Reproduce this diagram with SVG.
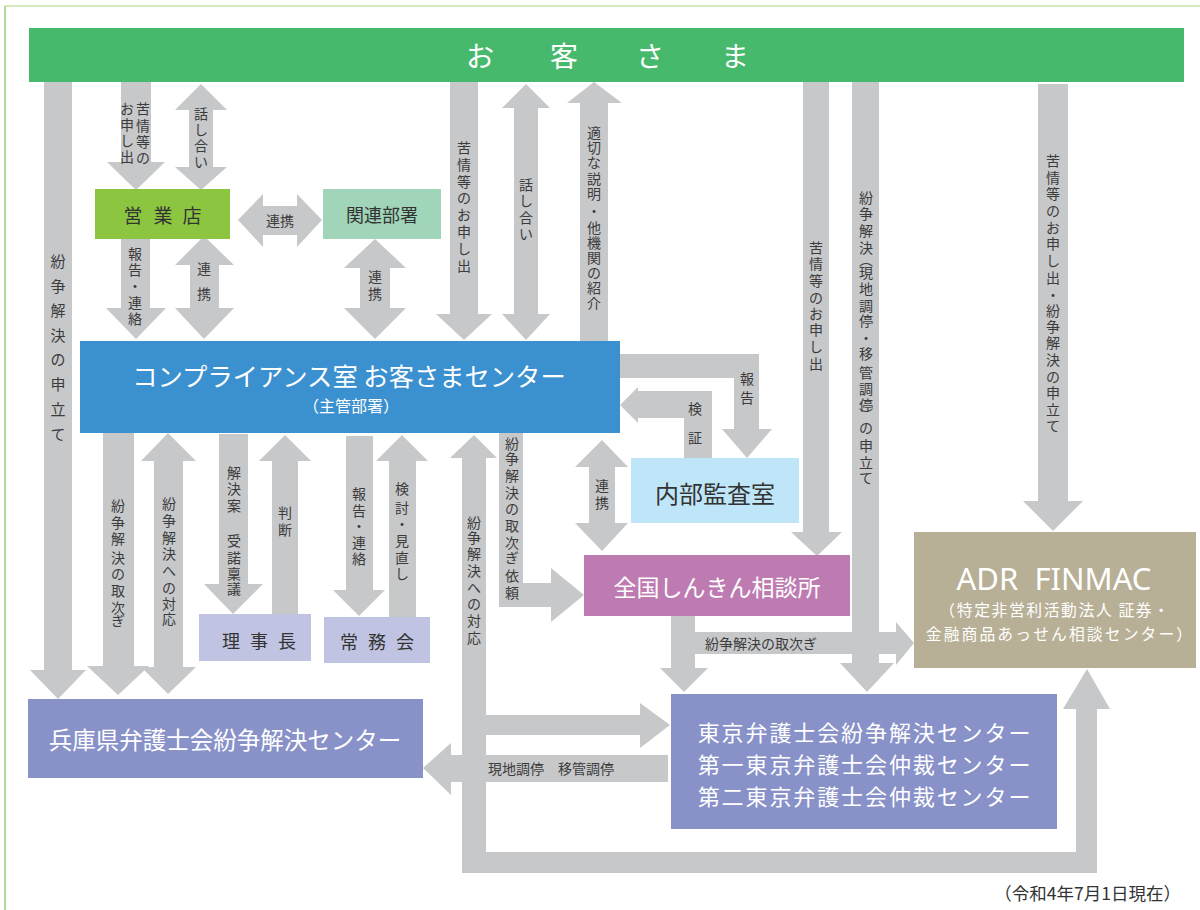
<svg xmlns="http://www.w3.org/2000/svg" width="1200" height="910" viewBox="0 0 1200 910">
<style>
text { font-family: "Noto Sans CJK JP", "Noto Sans", sans-serif; dominant-baseline: central; text-anchor: middle; }
.a { fill: #c7c8ca; }
.l { fill: #3c3c3c; font-size: 14px; }
.w { fill: #ffffff; }
.d { fill: #333333; }
</style>
<rect x="0" y="0" width="1200" height="910" fill="#ffffff"/>
<g id="frame">
<path d="M5,6 H1200" stroke="#c3e4ad" stroke-width="1.5" fill="none"/>
<path d="M5,6 V910" stroke="#94ce78" stroke-width="1.5" fill="none"/>
</g>

<g id="connectors">
<polygon class="a" points="44,82 72,82 72,670 86,670 58,699 30,670 44,670"/>
<polygon class="a" points="121,82 151,82 151,162 165,162 136,190 107,162 121,162"/>
<polygon class="a" points="201,84 227,110 213,110 213,167 227,167 201,190 175,167 189,167 189,110 175,110"/>
<polygon class="a" points="238,220 263,194 263,206 297,206 297,194 322,220 297,247 297,235 263,235 263,247"/>
<polygon class="a" points="121,239 150,239 150,308 166,308 136,339 106,308 121,308"/>
<polygon class="a" points="204,236 234,265 219,265 219,308 234,308 204,339 175,308 190,308 190,265 175,265"/>
<polygon class="a" points="375,239 406,268 390,268 390,308 406,308 375,339 344,308 360,308 360,268 344,268"/>
<polygon class="a" points="450,82 478,82 478,314 492,314 464,340 436,314 450,314"/>
<polygon class="a" points="526,84 550,108 538,108 538,314 550,314 526,340 502,314 514,314 514,108 502,108"/>
<polygon class="a" points="594,82 622,103 608,103 608,341 580,341 580,103 567,103"/>
<polygon class="a" points="803,82 829,82 829,532 842,532 817,556 791,532 803,532"/>
<polygon class="a" points="852,82 879,82 879,663 894,663 867,692 840,663 852,663"/>
<polygon class="a" points="1038,84 1068,84 1068,501 1083,501 1053,531 1023,501 1038,501"/>
<polygon class="a" points="620,354 759,354 759,429 772,429 747,458 722,429 734,429 734,378 620,378"/>
<polygon class="a" points="620,405 638,387 638,391 712,391 712,458 684,458 684,418 638,418 638,423"/>
<polygon class="a" points="602,440 628,467 615,467 615,523 628,523 602,551 575,523 589,523 589,467 575,467"/>
<polygon class="a" points="499,433 523,433 523,583 551,583 551,568 584,595 551,622 551,607 499,607"/>
<polygon class="a" points="474,435 497,458 486,458 486,852 1076,852 1076,709 1063,709 1087,669 1110,709 1097,709 1097,873 462,873 462,458 450,458"/>
<polygon class="a" points="486,715 640,715 640,703 670,725 640,748 640,735 486,735"/>
<polygon class="a" points="668,755 668,782 451,782 451,795 423,768 451,743 451,755"/>
<polygon class="a" points="671,616 695,616 695,632 896,632 896,622 914,643 896,665 896,654 695,654 695,668 708,668 684,692 660,668 671,668"/>
<polygon class="a" points="103,433 134,433 134,666 149,666 118,695 87,666 103,666"/>
<polygon class="a" points="168,433 196,461 183,461 183,667 196,667 168,694 141,667 154,667 154,461 141,461"/>
<polygon class="a" points="219,434 248,434 248,584 263,584 233,614 204,584 219,584"/>
<polygon class="a" points="285,435 311,461 298,461 298,614 272,614 272,461 259,461"/>
<polygon class="a" points="346,436 373,436 373,590 385,590 359,616 333,590 346,590"/>
<polygon class="a" points="402,435 428,461 416,461 416,617 389,617 389,461 376,461"/>

<text class="l" style="font-size:15px" x="58 58 58 58 58 58 58 58" y="260 285 309 334 358 383 408 433">紛争解決の申立て</text>
<text class="l" x="143 143 143 143" y="108 125 141 157">苦情等の</text>
<text class="l" x="127 127 127 127" y="108 124 140 156">お申し出</text>
<text class="l" x="201 201 201 201" y="113 129 145 161">話し合い</text>
<text class="l" x="280" y="220">連携</text>
<text class="l" x="135 135 135 135 135" y="253 269 285 302 318">報告・連絡</text>
<text class="l" x="204 204" y="268 293">連携</text>
<text class="l" x="375 375" y="276 293">連携</text>
<text class="l" x="464 464 464 464 464 464 464 464" y="147 164 181 197 214 231 248 265">苦情等のお申し出</text>
<text class="l" x="526 526 526 526" y="184 200 217 233">話し合い</text>
<text class="l" x="594 594 594 594 594 594 594 594 594 594 594 594" y="132 147 162 178 193 210 227 242 257 272 287 302">適切な説明・他機関の紹介</text>
<text class="l" x="816 816 816 816 816 816 816 816" y="247 263 280 297 313 329 346 363">苦情等のお申し出</text>
<text class="l" x="866 866 866 866 866 866 866 866 866 866 866 866 866 866 866 866 866 866 866" y="197 213 230 247 259 272 288 305 320 337 353 372 388 404 414 427 445 462 477">紛争解決︵現地調停・移管調停︶の申立て</text>
<text class="l" x="1053 1053 1053 1053 1053 1053 1053 1053 1053 1053 1053 1053 1053 1053 1053 1053 1053" y="160 177 193 210 227 243 260 277 294 310 326 342 359 376 392 409 425">苦情等のお申し出・紛争解決の申立て</text>
<text class="l" x="747 747" y="378 397">報告</text>
<text class="l" x="695 695" y="408 437">検証</text>
<text class="l" x="602 602" y="485 502">連携</text>
<text class="l" x="512 512 512 512 512 512 512 512 512 512" y="443 458 475 492 508 525 542 557 575 592">紛争解決の取次ぎ依頼</text>
<text class="l" x="474 474 474 474 474 474 474 474" y="522 537 553 570 587 603 620 637">紛争解決への対応</text>
<text class="l" x="118 118 118 118 118 118 118 118" y="505 522 538 557 573 590 607 620">紛争解決の取次ぎ</text>
<text class="l" x="169 169 169 169 169 169 169 169" y="503 520 537 553 570 587 603 618">紛争解決への対応</text>
<text class="l" x="234 234 234 234 234 234 234" y="472 488 505 540 557 573 588">解決案受諾稟議</text>
<text class="l" x="285 285" y="512 529">判断</text>
<text class="l" x="359 359 359 359 359" y="493 510 525 542 558">報告・連絡</text>
<text class="l" x="402 402 402 402 402 402" y="488 507 523 540 557 573">検討・見直し</text>
<text class="l" x="551" y="768">現地調停　移管調停</text>
<text class="l" x="761" y="643">紛争解決の取次ぎ</text>
</g>

<g id="okyakusama">
<rect x="29" y="28" width="1155" height="54" fill="#47b96d"/>
<text class="w" style="font-size:28px" x="480 564 650 735" y="55 55 55 55">お客さま</text>
</g>
<g id="eigyouten">
<rect x="95" y="189" width="135" height="50" fill="#8cc540"/>
<text class="d" style="font-size:19px" x="133 163 192" y="214 214 214">営業店</text>
</g>
<g id="kanren">
<rect x="323" y="189" width="118" height="50" fill="#a0d5b9"/>
<text class="d" style="font-size:18px" x="382" y="214">関連部署</text>
</g>
<g id="compliance">
<rect x="80" y="341" width="540" height="92" fill="#3b90cf"/>
<text class="w" style="font-size:25.3px" x="349" y="375">コンプライアンス室 お客さまセンター</text>
<text class="w" style="font-size:16px" x="351" y="405">（主管部署）</text>
</g>
<g id="naibu">
<rect x="631" y="458" width="168" height="65" fill="#bfe6f8"/>
<text class="d" style="font-size:24px" x="715" y="492">内部監査室</text>
</g>
<g id="zenkoku">
<rect x="584" y="555" width="266" height="61" fill="#be7bb2"/>
<text class="w" style="font-size:23px" x="717" y="586">全国しんきん相談所</text>
</g>
<g id="adr">
<rect x="914" y="532" width="282" height="136" fill="#b8b096"/>
<text class="w" xml:space="preserve" style="font-size:31px;font-family:'Noto Sans',sans-serif" x="1054" y="578">ADR  FINMAC</text>
<text class="w" style="font-size:15.8px;letter-spacing:1.6px" x="1055" y="609.5">（特定非営利活動法人 証券・</text>
<text class="w" style="font-size:15.8px;letter-spacing:2.1px" x="1060" y="633.5">金融商品あっせん相談センター）</text>
</g>
<g id="rijicho">
<rect x="199" y="614" width="112" height="47" fill="#c0c4e2"/>
<text class="d" style="font-size:18px" x="231 259 287" y="640 640 640">理事長</text>
</g>
<g id="jomukai">
<rect x="324" y="617" width="106" height="46" fill="#c0c4e2"/>
<text class="d" style="font-size:18px" x="349 377 405" y="641 641 641">常務会</text>
</g>
<g id="hyogo">
<rect x="28" y="699" width="395" height="79" fill="#8892c9"/>
<text class="w" style="font-size:23.5px" x="225" y="739">兵庫県弁護士会紛争解決センター</text>
</g>
<g id="tokyo">
<rect x="671" y="694" width="386" height="135" fill="#8892c9"/>
<text class="w" style="font-size:22px;letter-spacing:1.9px" x="865" y="730.5">東京弁護士会紛争解決センター</text>
<text class="w" style="font-size:22px;letter-spacing:1.9px" x="865" y="762.5">第一東京弁護士会仲裁センター</text>
<text class="w" style="font-size:22px;letter-spacing:1.9px" x="865" y="794.5">第二東京弁護士会仲裁センター</text>
</g>
<g id="footer">
<text class="d" style="font-size:17.5px;text-anchor:end" x="1181" y="892">（令和4年7月1日現在）</text>
</g>
</svg>
